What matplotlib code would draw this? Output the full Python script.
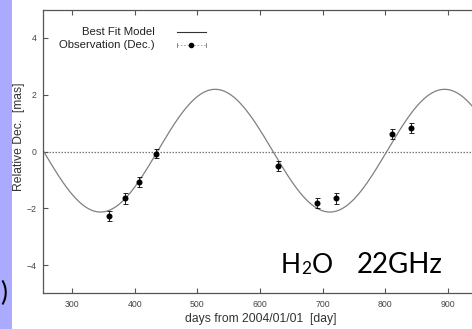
import numpy as np
import matplotlib
matplotlib.use("Agg")
import matplotlib.pyplot as plt
from matplotlib.lines import Line2D

# ---- data ----
obs_days = [359, 384, 407, 434, 629, 691, 722, 811, 841]
obs_dec = [-2.26, -1.65, -1.07, -0.07, -0.50, -1.81, -1.65, 0.61, 0.83]
obs_err = [0.18, 0.18, 0.17, 0.17, 0.17, 0.17, 0.18, 0.18, 0.18]

# best-fit parallax model (annual sinusoid) parameters
model_amp = 2.16
model_period = 366.0
model_t0 = 254.0
model_offset = 0.03

xticks = [300, 400, 500, 600, 700, 800, 900]
yticks = [-4, -2, 0, 2, 4]

W, H = 472, 329
fig = plt.figure(figsize=(W / 100, H / 100), dpi=100)
fig.patch.set_facecolor("white")

def fx(px):
    return px / W

def fy(py):
    return 1 - py / H

# left slide strip
fig.patches.append(plt.Rectangle((0, 0), fx(12), 1, transform=fig.transFigure,
                                 facecolor="#aaaaff", edgecolor="none", zorder=0))

ax_l, ax_r, ax_t, ax_b = 43, 472, 9.5, 293
ax = fig.add_axes([fx(ax_l), fy(ax_b), fx(ax_r - ax_l), (ax_b - ax_t) / H])
ax.set_xlim(253.7, 938.3)
ax.set_ylim(-4.98, 5.0)

spine_c = "#555555"
for s in ["left", "bottom", "top"]:
    ax.spines[s].set_color(spine_c)
    ax.spines[s].set_linewidth(0.9)
ax.spines["right"].set_visible(False)

ax.set_xticks(xticks)
ax.set_yticks(yticks)
ax.tick_params(axis="both", direction="in", length=3.6, width=0.8, color=spine_c,
               labelsize=6.3, labelcolor="#444444")
ax.tick_params(axis="x", top=True, pad=5)
ax.tick_params(axis="y", pad=4.5)
for lab in ax.get_xticklabels() + ax.get_yticklabels():
    lab.set_family(["Liberation Sans", "DejaVu Sans"])

# zero line
ax.axhline(0, color="#777777", lw=0.9, ls=(0, (1.2, 1.2)), zorder=1)

# model curve
t = np.linspace(253.7, 938.3, 800)
model = model_offset - model_amp * np.sin(2 * np.pi * (t - model_t0) / model_period)
ax.plot(t, model, color="#808080", lw=0.9, zorder=2)

# observations
ax.errorbar(obs_days, obs_dec, yerr=obs_err, fmt="o", color="black", ms=3.3,
            elinewidth=0.6, capsize=1.8, capthick=0.6, zorder=3)

# legend (manual, gnuplot style)
lfont = dict(family=["Liberation Sans", "DejaVu Sans"], fontsize=8.2, color="#222222")
fig.text(fx(155), fy(32), "Best Fit Model", ha="right", va="center", **lfont)
fig.text(fx(155), fy(44.5), "Observation (Dec.)", ha="right", va="center", **lfont)
fig.add_artist(Line2D([fx(177), fx(206)], [fy(32), fy(32)], color="#333333", lw=0.8,
                      transform=fig.transFigure))
fig.add_artist(Line2D([fx(177), fx(206)], [fy(44.5), fy(44.5)], color="#999999", lw=0.6,
                      ls=(0, (2, 2)), transform=fig.transFigure))
for xc in (177, 206):
    fig.add_artist(Line2D([fx(xc), fx(xc)], [fy(42.5), fy(46.5)], color="#777777", lw=0.6,
                          transform=fig.transFigure))
fig.add_artist(Line2D([fx(191)], [fy(44.5)], marker="o", ms=3, color="black",
                      transform=fig.transFigure))

# axis labels
afont = dict(family=["Liberation Sans", "DejaVu Sans"], fontsize=8.7, color="#333333")
fig.text(fx(261), fy(319), "days from 2004/01/01  [day]", ha="center", va="center", **afont)
fig.text(fx(19), fy(136.5), "Relative Dec.  [mas]", ha="center", va="center",
         rotation=90, **afont)

# slide annotation text (H2O with small 2, placed piece by piece)
sfont = dict(family=["Lato", "DejaVu Sans"], color="black")
base = fy(272.7)
fig.canvas.draw()
renderer = fig.canvas.get_renderer()
xpos = 281.0
for piece, size, dy in (("H", 19, 0.0), ("2", 12.5, 1.5), ("O", 19, 0.0)):
    tt = fig.text(fx(xpos), fy(272.7 + dy), piece, ha="left", va="baseline",
                  fontsize=size, **sfont)
    bb = tt.get_window_extent(renderer)
    xpos += bb.width + 0.5
fig.text(fx(357), base, "22GHz", ha="left", va="baseline", fontsize=20, **sfont)
fig.text(fx(0), fy(293), ")", ha="left", va="center", fontsize=19, **sfont)

fig.savefig("out.png", dpi=100)
